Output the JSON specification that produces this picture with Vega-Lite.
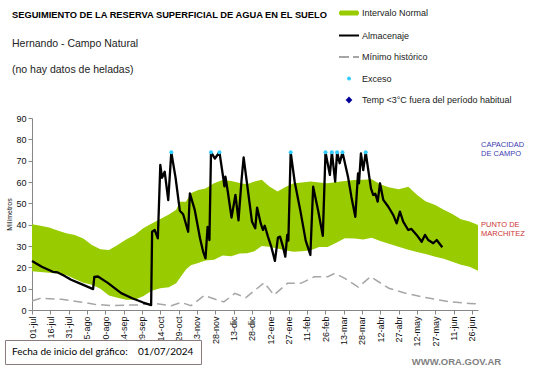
{
  "$schema": "https://vega.github.io/schema/vega-lite/v6.json",
  "width": 446,
  "height": 192,
  "autosize": {"type": "none"},
  "padding": {"left": 32, "top": 118, "right": 63, "bottom": 58},
  "background": "white",
  "title": {
    "text": "SEGUIMIENTO DE LA RESERVA SUPERFICIAL DE AGUA EN EL SUELO",
    "subtitle": ["Hernando - Campo Natural", "(no hay datos de heladas)"],
    "anchor": "start",
    "frame": "group",
    "dx": -20,
    "offset": -74,
    "font": "Liberation Sans",
    "fontSize": 9.3,
    "fontWeight": "bold",
    "color": "#000000",
    "subtitleFont": "Liberation Sans",
    "subtitleFontSize": 10.5,
    "subtitleColor": "#222222",
    "subtitleLineHeight": 26.7,
    "subtitlePadding": 19
  },
  "datasets": {
    "banda": [
      {"d": 0, "lo": 18.2, "hi": 40.2}, {"d": 7, "lo": 17.8, "hi": 39.5}, {"d": 14, "lo": 17.5, "hi": 38.7},
      {"d": 21, "lo": 17.1, "hi": 37.3}, {"d": 28, "lo": 16.4, "hi": 36}, {"d": 35, "lo": 14.5, "hi": 35.2},
      {"d": 42, "lo": 12.8, "hi": 33.5}, {"d": 49, "lo": 11.8, "hi": 30.5}, {"d": 56, "lo": 10, "hi": 28.5},
      {"d": 63, "lo": 6.8, "hi": 28.1}, {"d": 70, "lo": 5.8, "hi": 30.5}, {"d": 77, "lo": 4.8, "hi": 33},
      {"d": 84, "lo": 4.8, "hi": 35.2}, {"d": 91, "lo": 6.5, "hi": 38.3}, {"d": 98, "lo": 9, "hi": 40.5},
      {"d": 105, "lo": 10.2, "hi": 42.7}, {"d": 112, "lo": 10.7, "hi": 44.8}, {"d": 118, "lo": 12.5, "hi": 47},
      {"d": 121, "lo": 15, "hi": 50.8}, {"d": 126, "lo": 19, "hi": 50.8}, {"d": 130, "lo": 21, "hi": 54.7},
      {"d": 136, "lo": 22, "hi": 56.3}, {"d": 142, "lo": 23.2, "hi": 57}, {"d": 149, "lo": 23.5, "hi": 59.4},
      {"d": 156, "lo": 25.5, "hi": 60.9}, {"d": 163, "lo": 25.2, "hi": 60.5}, {"d": 170, "lo": 26.5, "hi": 59.5},
      {"d": 176, "lo": 26.6, "hi": 59}, {"d": 182, "lo": 27.5, "hi": 60.2}, {"d": 188, "lo": 30, "hi": 61},
      {"d": 194, "lo": 29.7, "hi": 58}, {"d": 201, "lo": 28.8, "hi": 55.5}, {"d": 207, "lo": 28, "hi": 57.5},
      {"d": 214, "lo": 27.3, "hi": 59.4}, {"d": 221, "lo": 27.5, "hi": 59.8}, {"d": 228, "lo": 28, "hi": 60.2},
      {"d": 235, "lo": 29.5, "hi": 59.8}, {"d": 242, "lo": 29.5, "hi": 59.4}, {"d": 249, "lo": 31.5, "hi": 60},
      {"d": 256, "lo": 33.6, "hi": 60.5}, {"d": 264, "lo": 33.5, "hi": 60.9}, {"d": 271, "lo": 33, "hi": 61},
      {"d": 278, "lo": 33.9, "hi": 61.3}, {"d": 285, "lo": 32.3, "hi": 59}, {"d": 292, "lo": 31, "hi": 57.5},
      {"d": 300, "lo": 29.7, "hi": 56.6}, {"d": 308, "lo": 28.3, "hi": 57.8}, {"d": 315, "lo": 27.2, "hi": 54},
      {"d": 322, "lo": 26.3, "hi": 51}, {"d": 330, "lo": 25, "hi": 49.2}, {"d": 337, "lo": 24, "hi": 47},
      {"d": 344, "lo": 22.6, "hi": 45}, {"d": 351, "lo": 21.2, "hi": 42.5}, {"d": 358, "lo": 20.3, "hi": 41.5},
      {"d": 365, "lo": 18.4, "hi": 39.8}
    ],
    "minimo": [
      {"d": 0, "v": 4.2}, {"d": 7, "v": 5.5}, {"d": 14, "v": 5.3}, {"d": 24, "v": 5}, {"d": 38, "v": 3.9},
      {"d": 51, "v": 2.7}, {"d": 65, "v": 2}, {"d": 79, "v": 2.3}, {"d": 87, "v": 2.3}, {"d": 100, "v": 3.1},
      {"d": 114, "v": 2}, {"d": 122, "v": 3.6}, {"d": 130, "v": 2}, {"d": 141, "v": 6.8}, {"d": 150, "v": 5},
      {"d": 157, "v": 3.8}, {"d": 166, "v": 7.8}, {"d": 175, "v": 5.8}, {"d": 181, "v": 8.6}, {"d": 190, "v": 12.8},
      {"d": 198, "v": 7}, {"d": 209, "v": 12.5}, {"d": 220, "v": 12.5}, {"d": 231, "v": 15.6}, {"d": 242, "v": 15.6},
      {"d": 248, "v": 17.2}, {"d": 256, "v": 14.8}, {"d": 267, "v": 10.7}, {"d": 277, "v": 15.6}, {"d": 292, "v": 10.2},
      {"d": 305, "v": 8}, {"d": 319, "v": 6.2}, {"d": 341, "v": 3.9}, {"d": 358, "v": 3.1}, {"d": 365, "v": 2.8}
    ],
    "almacenaje": [
      {"d": 0, "v": 23}, {"d": 8, "v": 20.3}, {"d": 17, "v": 17.9}, {"d": 21, "v": 17.6}, {"d": 26, "v": 16.2},
      {"d": 32, "v": 14.2}, {"d": 41, "v": 12}, {"d": 50, "v": 9.8}, {"d": 51, "v": 15.5}, {"d": 54, "v": 15.7},
      {"d": 62, "v": 12.7}, {"d": 73, "v": 7.9}, {"d": 82, "v": 5.5}, {"d": 91, "v": 3.5}, {"d": 97.5, "v": 2.3},
      {"d": 98.3, "v": 36.7}, {"d": 100.4, "v": 37.5}, {"d": 103, "v": 33.6}, {"d": 105, "v": 68},
      {"d": 106.4, "v": 62}, {"d": 108.6, "v": 64.8}, {"d": 111.5, "v": 51.5}, {"d": 114, "v": 74},
      {"d": 117.5, "v": 62}, {"d": 121, "v": 46.5}, {"d": 123.7, "v": 44.9}, {"d": 127.8, "v": 36.7},
      {"d": 129.2, "v": 54.7}, {"d": 133.2, "v": 46.9}, {"d": 137.5, "v": 33.6}, {"d": 140, "v": 27.5},
      {"d": 142, "v": 24.2}, {"d": 143.7, "v": 39}, {"d": 145.2, "v": 32.8}, {"d": 146.5, "v": 74},
      {"d": 149.7, "v": 71}, {"d": 153.4, "v": 74}, {"d": 156.5, "v": 62}, {"d": 157.5, "v": 58},
      {"d": 158.3, "v": 62.5}, {"d": 160.5, "v": 54.5}, {"d": 163.3, "v": 43.3}, {"d": 166.5, "v": 54},
      {"d": 169, "v": 42}, {"d": 171.5, "v": 61}, {"d": 173.2, "v": 71.5}, {"d": 175.8, "v": 60},
      {"d": 180, "v": 41.5}, {"d": 182.7, "v": 38.3}, {"d": 184.2, "v": 48}, {"d": 187.2, "v": 40.6},
      {"d": 189, "v": 37.5}, {"d": 190.5, "v": 39.5}, {"d": 193.1, "v": 34.4}, {"d": 195.8, "v": 29.7},
      {"d": 198.8, "v": 23}, {"d": 201.3, "v": 34}, {"d": 203, "v": 34.4}, {"d": 205.4, "v": 29.7},
      {"d": 207.3, "v": 25}, {"d": 208.9, "v": 35.2}, {"d": 209.8, "v": 32.5}, {"d": 211.7, "v": 74},
      {"d": 215, "v": 60}, {"d": 219.8, "v": 46}, {"d": 224, "v": 32.5}, {"d": 227.8, "v": 25.8},
      {"d": 230.1, "v": 57.8}, {"d": 234.2, "v": 46.5}, {"d": 238, "v": 34.8}, {"d": 240.2, "v": 74},
      {"d": 243.8, "v": 63.3}, {"d": 245.4, "v": 74}, {"d": 248.1, "v": 60.2}, {"d": 249.7, "v": 74},
      {"d": 251.8, "v": 68.8}, {"d": 254.1, "v": 74}, {"d": 258.6, "v": 62.5}, {"d": 261.4, "v": 53},
      {"d": 264.6, "v": 43.7}, {"d": 266.8, "v": 64}, {"d": 267.6, "v": 59.4}, {"d": 269.2, "v": 73.4},
      {"d": 271.1, "v": 65.6}, {"d": 273.1, "v": 74}, {"d": 275.2, "v": 65.6}, {"d": 277.4, "v": 57},
      {"d": 279.3, "v": 53.9}, {"d": 281, "v": 54.5}, {"d": 282.9, "v": 50.8}, {"d": 284.8, "v": 59.4},
      {"d": 287.5, "v": 51.6}, {"d": 291.6, "v": 48.4}, {"d": 295.7, "v": 44.5}, {"d": 298.4, "v": 40.6},
      {"d": 301.1, "v": 46.1}, {"d": 303.8, "v": 41.4}, {"d": 307.9, "v": 37.5}, {"d": 310.5, "v": 38},
      {"d": 314.8, "v": 35.2}, {"d": 318.9, "v": 32}, {"d": 321.6, "v": 35.2}, {"d": 324.3, "v": 32.8},
      {"d": 328.4, "v": 31.3}, {"d": 331.2, "v": 32.8}, {"d": 335.8, "v": 29.4}
    ],
    "exceso": [
      {"d": 114, "v": 74}, {"d": 146.5, "v": 74}, {"d": 153.4, "v": 74}, {"d": 211.7, "v": 74},
      {"d": 240.2, "v": 74}, {"d": 245.4, "v": 74}, {"d": 249.7, "v": 74}, {"d": 254.1, "v": 74}, {"d": 273.1, "v": 74}
    ]
  },
  "encoding": {
    "x": {
      "type": "quantitative",
      "scale": {"domain": [0, 365], "nice": false, "zero": false},
      "axis": {
        "values": [0, 15, 30, 45, 60, 75, 90, 105, 120, 135, 150, 165, 180, 195, 210, 225, 240, 255, 270, 285, 300, 315, 330, 345, 360],
        "labelExpr": "['01-jul','16-jul','31-jul','15-ago','30-ago','14-sep','29-sep','14-oct','29-oct','13-nov','28-nov','13-dic','28-dic','12-ene','27-ene','11-feb','26-feb','13-mar','28-mar','12-abr','27-abr','12-may','27-may','11-jun','26-jun'][round(datum.value/15)]",
        "labelAngle": -90,
        "labelFont": "Liberation Sans",
        "labelFontSize": 9,
        "labelColor": "#111111",
        "labelOverlap": false,
        "labelFlush": false,
        "labelPadding": 2,
        "tickSize": 4,
        "tickColor": "#868686",
        "domainColor": "#868686",
        "grid": false,
        "title": "WWW.ORA.GOV.AR",
        "titleX": 424,
        "titleY": 51,
        "titleAlign": "center",
        "titleBaseline": "middle",
        "titleFont": "Liberation Sans",
        "titleFontSize": 9.5,
        "titleFontWeight": "bold",
        "titleColor": "#7f7f7f"
      }
    },
    "y": {
      "type": "quantitative",
      "scale": {"domain": [0, 90], "nice": false},
      "axis": {
        "values": [0, 10, 20, 30, 40, 50, 60, 70, 80, 90],
        "labelFont": "Liberation Sans",
        "labelFontSize": 9,
        "labelColor": "#111111",
        "labelPadding": 2,
        "tickSize": 4,
        "tickColor": "#868686",
        "domainColor": "#868686",
        "grid": false,
        "title": "Milímetros",
        "titleFont": "Liberation Sans",
        "titleFontSize": 7,
        "titleFontWeight": "normal",
        "titleColor": "#111111",
        "titlePadding": 3
      }
    }
  },
  "layer": [
    {
      "data": {"name": "banda"},
      "mark": {"type": "area", "opacity": 1},
      "encoding": {
        "x": {"field": "d", "type": "quantitative"},
        "y": {"field": "hi", "type": "quantitative"},
        "y2": {"field": "lo"},
        "color": {
          "datum": "Intervalo Normal",
          "type": "nominal",
          "scale": {
            "domain": ["Intervalo Normal", "Almacenaje", "Mínimo histórico", "Exceso", "Temp <3°C fuera del período habitual"],
            "range": ["#99cc00", "#000000", "#a6a6a6", "#33ccff", "#000099"]
          },
          "legend": {
            "orient": "none",
            "legendX": 306,
            "legendY": -116,
            "title": null,
            "padding": 0,
            "symbolSize": 400,
            "symbolType": {"expr": "datum.value === 'Intervalo Normal' ? 'M-0.9,-0.15H0.9V0.15H-0.9Z' : (datum.value === 'Almacenaje' || datum.value === 'Mínimo histórico') ? 'stroke' : datum.value === 'Exceso' ? 'M-0.1,0A0.1,0.1,0,1,1,0.1,0A0.1,0.1,0,1,1,-0.1,0Z' : 'M0,-0.2L0.2,0L0,0.2L-0.2,0Z'"},
            "symbolStrokeColor": {"expr": "datum.value === 'Intervalo Normal' ? '#99cc00' : datum.value === 'Almacenaje' ? '#000000' : datum.value === 'Mínimo histórico' ? '#a6a6a6' : datum.value === 'Exceso' ? '#33ccff' : '#000099'"},
            "symbolFillColor": {"expr": "datum.value === 'Intervalo Normal' ? '#99cc00' : datum.value === 'Exceso' ? '#33ccff' : datum.value === 'Temp <3°C fuera del período habitual' ? '#000099' : 'transparent'"},
            "symbolStrokeWidth": 2,
            "symbolDash": {"expr": "datum.value === 'Mínimo histórico' ? [10, 4] : [1, 0]"},
            "symbolOpacity": 1,
            "rowPadding": 5.5,
            "labelFont": "Liberation Sans",
            "labelFontSize": 9,
            "labelColor": "#222222",
            "labelOffset": 2,
            "labelLimit": 300
          }
        }
      }
    },
    {
      "mark": {"type": "rule", "color": "#7f9fd3", "strokeWidth": 1},
      "encoding": {"y": {"datum": 74}}
    },
    {
      "mark": {"type": "rule", "color": "#b04a2a", "strokeWidth": 1.2},
      "encoding": {"y": {"datum": 29}}
    },
    {
      "data": {"name": "minimo"},
      "mark": {"type": "line", "strokeWidth": 1.5, "strokeDash": [9, 5]},
      "encoding": {
        "x": {"field": "d", "type": "quantitative"},
        "y": {"field": "v", "type": "quantitative"},
        "color": {"datum": "Mínimo histórico", "type": "nominal", "legend": null}
      }
    },
    {
      "data": {"name": "almacenaje"},
      "mark": {"type": "line", "strokeWidth": 2.3, "strokeJoin": "round"},
      "encoding": {
        "x": {"field": "d", "type": "quantitative"},
        "y": {"field": "v", "type": "quantitative"},
        "color": {"datum": "Almacenaje", "type": "nominal", "legend": null}
      }
    },
    {
      "data": {"name": "exceso"},
      "mark": {"type": "point", "filled": true, "size": 16, "opacity": 1},
      "encoding": {
        "x": {"field": "d", "type": "quantitative"},
        "y": {"field": "v", "type": "quantitative"},
        "color": {"datum": "Exceso", "type": "nominal", "legend": null},
        "shape": {
          "datum": "Fecha de inicio del gráfico:\u00a0\u00a0\u00a0 01/07/2024",
          "type": "nominal",
          "scale": {"range": ["circle"]},
          "legend": {
            "orient": "none",
            "legendX": -27,
            "legendY": 222,
            "title": null,
            "padding": 7,
            "strokeColor": "#8c7b7b",
            "fillColor": "white",
            "symbolSize": 0.0001,
            "symbolOpacity": 0,
            "symbolStrokeWidth": 0,
            "labelOffset": -10,
            "labelFont": "Lato",
            "labelFontSize": 10,
            "labelColor": "#000000",
            "labelLimit": 400
          }
        }
      }
    },
    {
      "data": {"values": [{"etiqueta": "CAPACIDAD\nDE  CAMPO", "v": 74}]},
      "mark": {"type": "text", "align": "left", "baseline": "middle", "dx": 3, "dy": -7, "lineBreak": "\n", "lineHeight": 9, "font": "Liberation Sans", "fontSize": 7.5, "color": "#3c3cb0"},
      "encoding": {
        "x": {"datum": 365},
        "y": {"field": "v", "type": "quantitative"},
        "text": {"field": "etiqueta"}
      }
    },
    {
      "data": {"values": [{"etiqueta": "PUNTO  DE\nMARCHITEZ", "v": 29}]},
      "mark": {"type": "text", "align": "left", "baseline": "middle", "dx": 3, "dy": -23.5, "lineBreak": "\n", "lineHeight": 9, "font": "Liberation Sans", "fontSize": 7.5, "color": "#cc3333"},
      "encoding": {
        "x": {"datum": 365},
        "y": {"field": "v", "type": "quantitative"},
        "text": {"field": "etiqueta"}
      }
    }
  ],
  "config": {
    "view": {"stroke": null},
    "font": "Liberation Sans"
  }
}
